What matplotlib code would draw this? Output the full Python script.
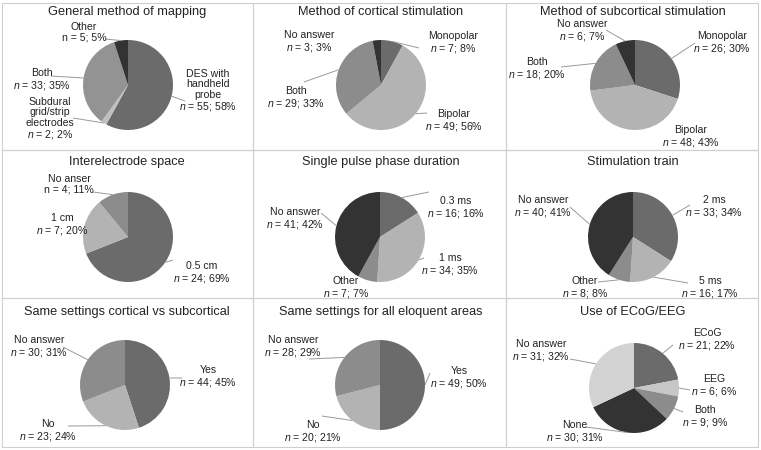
import matplotlib
matplotlib.use("Agg")
import matplotlib.pyplot as plt
import numpy as np
from matplotlib.patches import Rectangle

plt.rcParams['font.family'] = ['Liberation Sans', 'DejaVu Sans']
plt.rcParams['mathtext.fontset'] = 'custom'
plt.rcParams['mathtext.it'] = 'Liberation Sans:italic'
plt.rcParams['mathtext.rm'] = 'Liberation Sans'

# ---------------- data ----------------
titles = ["General method of mapping", "Method of cortical stimulation",
          "Method of subcortical stimulation", "Interelectrode space",
          "Single pulse phase duration", "Stimulation train",
          "Same settings cortical vs subcortical",
          "Same settings for all eloquent areas", "Use of ECoG/EEG"]

categories = [
    ["DES with\nhandheld\nprobe", "Subdural\ngrid/strip\nelectrodes", "Both", "Other"],
    ["Monopolar", "Bipolar", "Both", "No answer"],
    ["Monopolar", "Bipolar", "Both", "No answer"],
    ["0.5 cm", "1 cm", "No anser"],
    ["0.3 ms", "1 ms", "Other", "No answer"],
    ["2 ms", "5 ms", "Other", "No answer"],
    ["Yes", "No", "No answer"],
    ["Yes", "No", "No answer"],
    ["ECoG", "EEG", "Both", "None", "No answer"],
]
counts = [
    [55, 2, 33, 5],
    [7, 49, 29, 3],
    [26, 48, 18, 6],
    [24, 7, 4],
    [16, 34, 7, 41],
    [33, 16, 8, 40],
    [44, 23, 30],
    [49, 20, 28],
    [21, 6, 9, 30, 31],
]
percents = [
    [58, 2, 35, 5],
    [8, 56, 33, 3],
    [30, 43, 20, 7],
    [69, 20, 11],
    [16, 35, 7, 42],
    [34, 17, 8, 41],
    [45, 24, 31],
    [50, 21, 29],
    [22, 6, 9, 31, 32],
]
# labels whose "n" is set upright in the original
upright_n = {(0, 3), (3, 2)}

# ---------------- styles / layout ----------------
colors = [
    ["#6b6b6b", "#c0c0c0", "#939393", "#333333"],
    ["#6b6b6b", "#b3b3b3", "#8c8c8c", "#333333"],
    ["#6b6b6b", "#b3b3b3", "#8c8c8c", "#333333"],
    ["#6b6b6b", "#b3b3b3", "#8c8c8c"],
    ["#6b6b6b", "#b3b3b3", "#8c8c8c", "#333333"],
    ["#6b6b6b", "#b3b3b3", "#8c8c8c", "#333333"],
    ["#6b6b6b", "#b3b3b3", "#8c8c8c"],
    ["#6b6b6b", "#b3b3b3", "#8c8c8c"],
    ["#6b6b6b", "#c6c6c6", "#8c8c8c", "#333333", "#d2d2d2"],
]
W, H = 761, 450
col_x = [2, 253, 506, 758]
row_y = [3, 150, 298, 447]
title_pos = [(127, 12), (381, 12), (633, 12), (127, 162), (381, 162), (633, 162),
             (127, 312), (381, 312), (633, 312)]
pie_center = [(128, 85), (381, 85), (635, 85), (128, 237), (380, 237), (633, 237),
              (125, 385), (380, 385), (634, 388)]
R = 45
# label text centre and leader-line end (pixel coords, y down); None = no line
label_pos = [
    [((208, 91), (185, 101)), ((50, 119), (73, 118)), ((42, 80), (51, 76)), ((84, 32), (105, 39))],
    [((453, 43), (419, 48)), ((454, 121), (427, 113)), ((296, 98), (304, 82)), ((309, 42), None)],
    [((722, 43), (695, 43)), ((691, 137), None), ((537, 69), (561, 67)), ((582, 31), (606, 30))],
    [((202, 273), (173, 260)), ((62, 225), None), ((69, 184), (93, 192))],
    [((456, 208), (429, 192)), ((450, 265), (424, 258)), ((346, 288), None), ((295, 219), (321, 213))],
    [((714, 207), (690, 205)), ((710, 288), (688, 283)), ((585, 288), (598, 282)), ((543, 207), (570, 207))],
    [((208, 77), (182, 78)), ((48, 131), (68, 126)), ((39, 47), (63, 47))],
    [((459, 78), (430, 73)), ((313, 132), (322, 116)), ((293, 47), (309, 59))],
    [((707, 340), (673, 345)), ((714, 386), (690, 390)), ((705, 417), (683, 412)),
     ((575, 432), (586, 427)), ((541, 351), (570, 359))],
]
# fix panel 7/8 y offsets (row 3 starts at 300)
for p in (6, 7):
    label_pos[p] = [((t[0], t[1] + 300), (None if l is None else (l[0], l[1] + 300)))
                    for t, l in label_pos[p]]

text_color = "#222222"
line_color = "#9a9a9a"

fig = plt.figure(figsize=(W / 100, H / 100), dpi=100)
ax = fig.add_axes([0, 0, 1, 1])

def Y(y):
    return H - y

# panel frames
for r in range(3):
    for c in range(3):
        ax.add_patch(Rectangle((col_x[c], Y(row_y[r + 1])), col_x[c + 1] - col_x[c],
                               row_y[r + 1] - row_y[r], fill=False,
                               edgecolor="#cfcfcf", lw=0.8))

for p in range(9):
    cx, cy = pie_center[p]
    vals = np.array(percents[p], dtype=float)
    ax.pie(vals, colors=colors[p], startangle=90, counterclock=False,
           center=(cx, Y(cy)), radius=R, wedgeprops=dict(linewidth=0),
           frame=True)
    tx, ty = title_pos[p]
    ax.text(tx, Y(ty), titles[p], ha="center", va="center", fontsize=9.2,
            color=text_color)
    cum = np.cumsum(vals) / vals.sum()
    mids = (cum - vals / vals.sum() / 2) * 2 * np.pi
    for i, cat in enumerate(categories[p]):
        nstr = "n" if (p, i) in upright_n else "$n$"
        s = f"{cat}\n{nstr} = {counts[p][i]}; {percents[p][i]}%"
        (lx, ly), lend = label_pos[p][i]
        ax.text(lx, Y(ly), s, ha="center", va="center", fontsize=7.6,
                color=text_color, linespacing=1.05)
        if lend is not None:
            ax_x = cx + R * np.sin(mids[i])
            ax_y = cy - R * np.cos(mids[i])
            ax.plot([lend[0], ax_x], [Y(lend[1]), Y(ax_y)], color=line_color,
                    lw=0.7, solid_capstyle="butt")

ax.set_xlim(0, W)
ax.set_ylim(0, H)
ax.set_aspect("auto")
ax.axis("off")
fig.savefig("out.png", dpi=100)
